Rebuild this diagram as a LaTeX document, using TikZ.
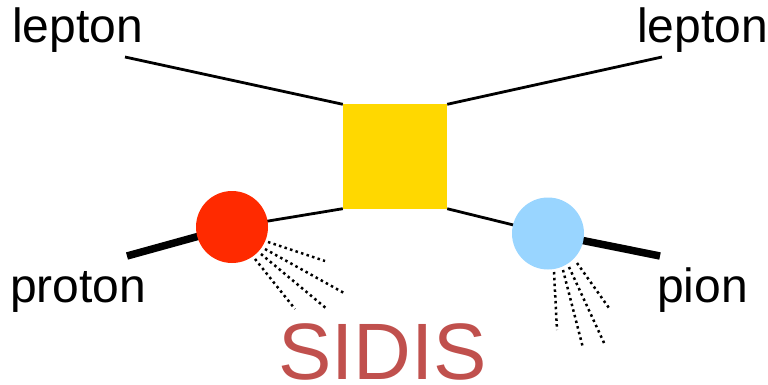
\documentclass[tikz,border=0pt]{standalone}
\usepackage{fontspec}
\setmainfont{Liberation Sans}
\usetikzlibrary{positioning, calc}

\definecolor{blobred}{HTML}{FF2A00}
\definecolor{blobblue}{HTML}{99D5FF}
\definecolor{boxyellow}{HTML}{FFD800}
\definecolor{titlered}{HTML}{C0504D}

\tikzset{
    label text/.style={inner sep=0pt, anchor=base west, font=\fontsize{48}{52}\selectfont},
    thin leg/.style={line width=2.8pt, black},
    thick leg/.style={line width=7.5pt, black},
    spray/.style={line width=2.5pt, dash pattern=on 2.5pt off 3.3pt, black},
    blob/.style={circle, minimum size=72pt, inner sep=0pt}
}

\begin{document}
\begin{tikzpicture}[x=1pt, y=-1pt]
    \useasboundingbox (0,0) rectangle (768,385);

    % Labels
    \node[label text] (lepin) at (12,43) {lepton};
    \node[label text] (lepout) at (637,43) {lepton};
    \node[label text] (protlab) at (10,302) {proton};
    \node[label text] (pionlab) at (657,302) {pion};
    \node[inner sep=0pt, anchor=base west, text=titlered,
          font=\fontsize{80}{84}\selectfont] (title) at (278,379) {SIDIS};

    % Free ends of the external legs
    \coordinate (lepA) at (125,57);
    \coordinate (lepB) at (662,57);
    \coordinate (protA) at (127,256);
    \coordinate (pionB) at (660,256);

    % Hard vertex
    \node[fill=boxyellow, minimum size=104pt, inner sep=0pt] (hard) at (395,156.5) {};

    % Lepton legs
    \draw[thin leg] (lepA) -- (hard.north west);
    \draw[thin leg] (hard.north east) -- (lepB);

    % Soft blobs
    \coordinate (pdf) at (232,227);
    \coordinate (ff) at (548,233.5);
    \draw[thin leg] (pdf) -- (hard.south west);
    \draw[thin leg] (hard.south east) -- (ff);
    \draw[thick leg] (protA) -- (pdf);
    \draw[thick leg] (ff) -- (pionB);

    % Remnants
    \foreach \sx/\sy/\ex/\ey in {268/242/325/261, 265/249/344/293, 261/254/327/309, 255/259/295/309}
        \draw[spray] (\sx,\sy) -- (\ex,\ey);
    \foreach \sx/\sy/\ex/\ey in {577/263/609/308, 569/267/605/345, 563/270/583/348, 554/272/557/330}
        \draw[spray] (\sx,\sy) -- (\ex,\ey);

    \node[blob, fill=blobred] (protblob) at (pdf) {};
    \node[blob, fill=blobblue] (pionblob) at (ff) {};
\end{tikzpicture}
\end{document}
